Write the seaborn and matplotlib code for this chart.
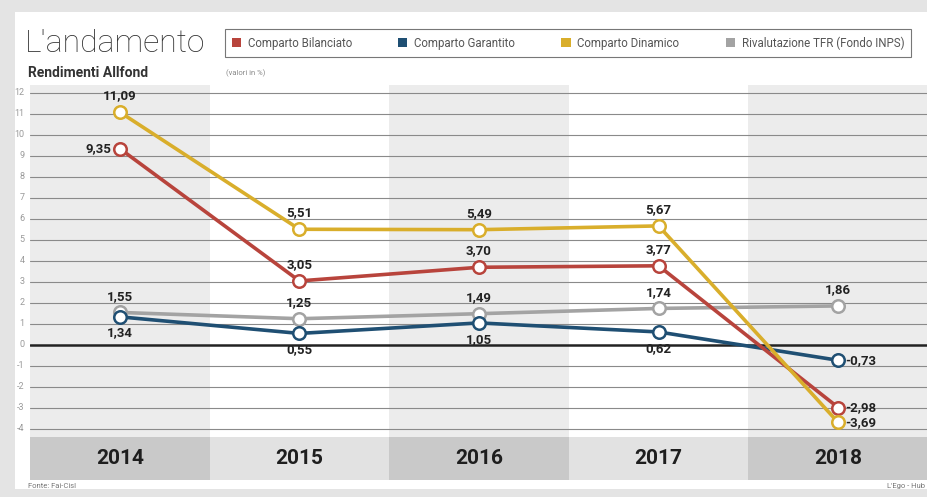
import pandas as pd
import matplotlib.pyplot as plt
import seaborn as sns
from matplotlib.patches import Patch, Rectangle

# --- dati (valori in %) ---
anni = ["2014", "2015", "2016", "2017", "2018"]
bilanciato = [9.35, 3.05, 3.70, 3.77, -2.98]
garantito = [1.34, 0.55, 1.05, 0.62, -0.73]
dinamico = [11.09, 5.51, 5.49, 5.67, -3.69]
tfr = [1.55, 1.25, 1.49, 1.74, 1.86]

serie = {
    "Comparto Bilanciato": bilanciato,
    "Comparto Garantito": garantito,
    "Comparto Dinamico": dinamico,
    "Rivalutazione TFR (Fondo INPS)": tfr,
}
colori = {
    "Comparto Bilanciato": "#b8443c",
    "Comparto Garantito": "#1f4f73",
    "Comparto Dinamico": "#d9ae2b",
    "Rivalutazione TFR (Fondo INPS)": "#a3a3a3",
}
# posizione etichette: sopra / sotto / sinistra / destra
pos_etichette = {
    "Comparto Bilanciato": ["left", "up", "up", "up", "right"],
    "Comparto Garantito": ["down", "down", "down", "down", "right"],
    "Comparto Dinamico": ["up", "up", "up", "up", "right"],
    "Rivalutazione TFR (Fondo INPS)": ["up", "up", "up", "up", "up"],
}

rows = []
for nome, valori in serie.items():
    for i, v in enumerate(valori):
        rows.append({"serie": nome, "x": i, "anno": anni[i], "valore": v})
df = pd.DataFrame(rows)

sns.set_theme(style="white")
plt.rcParams["font.family"] = ["Roboto", "DejaVu Sans"]

W, H = 928, 497
fig = plt.figure(figsize=(W / 100, H / 100), dpi=100)
fig.patch.set_facecolor("#e4e4e4")
fig.add_artist(Rectangle((15 / W, 8 / H), 1 - 15 / W, 1 - 20 / H, transform=fig.transFigure,
                         facecolor="white", edgecolor="none", zorder=0))

ax = fig.add_axes([30 / W, 1 - 480 / H, 898 / W, 395 / H])
ax.set_facecolor("none")
ymin, ymax = -6.43, 12.38
ax.set_xlim(-0.5, 4.5)
ax.set_ylim(ymin, ymax)

# colonne alternate
for i in range(len(anni)):
    c = "#ececec" if i % 2 == 0 else "white"
    ax.axvspan(i - 0.5, i + 0.5, ymin=0, ymax=1, color=c, zorder=0, lw=0)
    cb = "#c9c9c9" if i % 2 == 0 else "#e2e2e2"
    ax.add_patch(Rectangle((i - 0.5, ymin), 1, -4.38 - ymin, facecolor=cb, edgecolor="none", zorder=1))
    ax.text(i, (ymin - 4.38) / 2, anni[i], ha="center", va="center", fontsize=15,
            fontweight="bold", color="#1e1e1e", zorder=2)

# griglia
for y in range(-4, 13):
    if y == 0:
        ax.axhline(0, color="#222222", lw=1.8, zorder=1)
    else:
        ax.axhline(y, color="#8a8a8a", lw=0.8, zorder=1)
    ax.text(-0.53, y, str(y), ha="right", va="center", fontsize=6.5, color="#9a9a9a")

ordine = ["Rivalutazione TFR (Fondo INPS)", "Comparto Garantito", "Comparto Bilanciato", "Comparto Dinamico"]
sns.lineplot(data=df, x="x", y="valore", hue="serie", hue_order=ordine, palette=colori,
             marker="o", markersize=9, linewidth=2.6, legend=False, ax=ax, zorder=3)
for line in ax.get_lines():
    if line.get_marker() == "o":
        line.set_markerfacecolor("white")
        line.set_markeredgecolor(line.get_color())
        line.set_markeredgewidth(1.8)

for nome, valori in serie.items():
    for i, v in enumerate(valori):
        testo = f"{v:.2f}".replace(".", ",")
        p = pos_etichette[nome][i]
        kw = dict(textcoords="offset points", fontsize=9.5, fontweight="bold", color="#222222", zorder=4)
        if p == "up":
            ax.annotate(testo, (i, v), xytext=(0, 7), ha="center", va="bottom", **kw)
        elif p == "down":
            ax.annotate(testo, (i, v), xytext=(0, -7), ha="center", va="top", **kw)
        elif p == "left":
            ax.annotate(testo, (i, v), xytext=(-6, 0), ha="right", va="center", **kw)
        else:
            ax.annotate(testo, (i, v), xytext=(5, 0), ha="left", va="center", **kw)

ax.set_xticks([])
ax.set_yticks([])
ax.set_xlabel("")
ax.set_ylabel("")
for s in ax.spines.values():
    s.set_visible(False)

# titoli
fig.text(25 / W, 1 - 43 / H, "L'andamento", fontsize=23, fontweight="light", color="#333333",
         ha="left", va="center")
fig.text(28 / W, 1 - 73 / H, "Rendimenti Allfond", fontsize=10, fontweight="bold",
         color="#333333", ha="left", va="center")
fig.text(226 / W, 1 - 73 / H, "(valori in %)", fontsize=5.5, color="#8a8a8a", ha="left", va="center")

handles = [Patch(facecolor=colori[n], edgecolor="none", label=n) for n in serie]
leg = fig.legend(handles=handles, loc="center left", bbox_to_anchor=(219 / W, 1 - 43 / H),
                 ncol=4, frameon=True, fontsize=8.3, handlelength=0.8, handleheight=0.8,
                 columnspacing=4.0, handletextpad=0.6, borderpad=0.6, fancybox=False)
leg.get_frame().set_edgecolor("#555555")
leg.get_frame().set_linewidth(0.8)
for t in leg.get_texts():
    t.set_color("#555555")

fig.text(28 / W, 1 - 486 / H, "Fonte: Fai-Cisl", fontsize=5.5, color="#777777", ha="left", va="center")
fig.text(925 / W, 1 - 486 / H, "L'Ego - Hub", fontsize=5.5, color="#777777", ha="right", va="center")

fig.savefig("out.png", dpi=100, facecolor=fig.get_facecolor())
